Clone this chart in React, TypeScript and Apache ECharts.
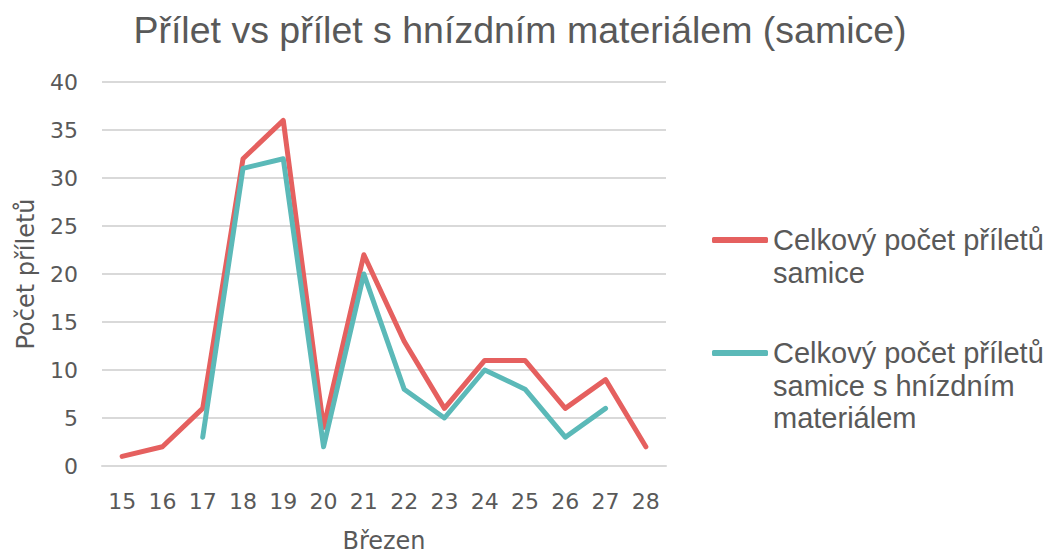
import React, { useEffect, useRef } from "react";
import * as echarts from "echarts";

const categories = ["15", "16", "17", "18", "19", "20", "21", "22", "23", "24", "25", "26", "27", "28"];
const totalFemale = [1, 2, 6, 32, 36, 4, 22, 13, 6, 11, 11, 6, 9, 2];
const withNestMaterial: (number | null)[] = [null, null, 3, 31, 32, 2, 20, 8, 5, 10, 8, 3, 6, null];
const seriesNames = [
  "Celkový počet příletů samice",
  "Celkový počet příletů samice s hnízdním materiálem",
];
const legendLines: Record<string, string[]> = {
  [seriesNames[0]]: ["Celkový počet příletů", "samice"],
  [seriesNames[1]]: ["Celkový počet příletů", "samice s hnízdním", "materiálem"],
};
const titleText = "Přílet vs přílet s hnízdním materiálem (samice)";
const xAxisName = "Březen";
const yAxisName = "Počet příletů";

const RED = "#E5605F";
const TEAL = "#5BB9B8";
const TEXT = "#595959";
const GRID = "#D9D9D9";
const AXIS_FONT = "'DejaVu Sans', sans-serif";
const ARIAL = "'Liberation Sans', Arial, sans-serif";

function legendFormatter(name: string) {
  const lines = legendLines[name] || [name];
  const pad = new Array(lines.length - 1).fill("");
  return [...pad, ...lines].join("\n");
}

export default function App() {
  const ref = useRef<HTMLDivElement>(null);
  useEffect(() => {
    if (!ref.current) return;
    const chart = echarts.init(ref.current, undefined, { renderer: "svg" });
    const LH = 32.5;
    const legendCommon = {
      orient: "vertical" as const,
      left: 707,
      icon: "roundRect",
      itemWidth: 56,
      itemHeight: 6,
      itemGap: 0,
      formatter: legendFormatter,
      textStyle: { fontFamily: ARIAL, fontSize: 29, lineHeight: LH, color: TEXT },
    };
    chart.setOption({
      animation: false,
      backgroundColor: "#ffffff",
      title: {
        text: titleText,
        left: 520,
        textAlign: "center",
        top: 11,
        padding: 0,
        textStyle: { fontFamily: ARIAL, fontSize: 37.5, fontWeight: "normal", color: TEXT },
      },
      legend: [
        { ...legendCommon, top: 235 - LH * 1.5, data: [{ name: seriesNames[0], itemStyle: { color: RED } }] },
        { ...legendCommon, top: 348 - LH * 2.5, data: [{ name: seriesNames[1], itemStyle: { color: TEAL } }] },
      ],
      grid: { left: 102, right: 379, top: 82, bottom: 87, containLabel: false },
      xAxis: {
        type: "category",
        data: categories,
        boundaryGap: true,
        name: xAxisName,
        nameLocation: "middle",
        nameGap: 63,
        nameTextStyle: { fontFamily: AXIS_FONT, fontSize: 24, color: TEXT },
        axisLine: { show: true, lineStyle: { color: GRID, width: 2 } },
        axisTick: { show: false },
        axisLabel: { margin: 24, fontFamily: AXIS_FONT, fontSize: 22, color: TEXT },
      },
      yAxis: {
        type: "value",
        min: 0,
        max: 40,
        interval: 5,
        name: yAxisName,
        nameLocation: "middle",
        nameGap: 64,
        nameTextStyle: { fontFamily: AXIS_FONT, fontSize: 24, color: TEXT },
        axisLine: { show: false },
        axisTick: { show: false },
        axisLabel: { margin: 24, fontFamily: AXIS_FONT, fontSize: 22, color: TEXT },
        splitLine: { lineStyle: { color: GRID, width: 2 } },
      },
      series: [
        {
          name: seriesNames[0],
          type: "line",
          data: totalFemale,
          showSymbol: false,
          symbol: "none",
          color: RED,
          lineStyle: { color: RED, width: 5, cap: "round", join: "round" },
        },
        {
          name: seriesNames[1],
          type: "line",
          data: withNestMaterial.map((v) => (v === null ? "-" : v)),
          showSymbol: false,
          symbol: "none",
          color: TEAL,
          lineStyle: { color: TEAL, width: 5, cap: "round", join: "round" },
        },
      ],
    });
    return () => chart.dispose();
  }, []);
  return <div ref={ref} style={{ width: 1045, height: 558, position: "absolute", left: 0, top: 0 }} />;
}
